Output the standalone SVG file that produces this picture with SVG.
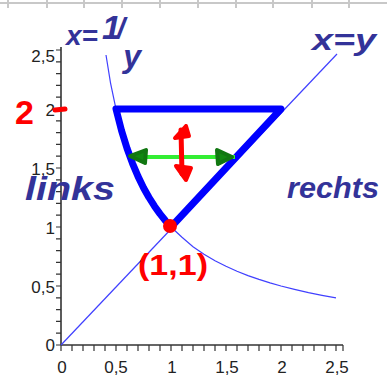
<svg xmlns="http://www.w3.org/2000/svg" width="387" height="378" viewBox="0 0 387 378">
<style>
.grid{stroke:#c8c8c8;stroke-width:2;fill:none}
.axis{stroke:#333;stroke-width:1.6;fill:none}
.tick{stroke:#333;stroke-width:1.2}
.lbl{font-family:"Liberation Sans",Arial,sans-serif;font-size:17px;fill:#222}
.thin{stroke:#4040ff;stroke-width:1.2;fill:none}
.hand{font-family:"Liberation Sans",Arial,sans-serif;font-weight:bold;font-style:italic;fill:#333399}
.red{font-family:"Liberation Sans",Arial,sans-serif;font-weight:bold;fill:#ff0000}
</style>
<rect width="387" height="378" fill="#fff"/>
<g id="topgrid" class="grid">
<line x1="0" y1="3" x2="387" y2="3"/>
<path d="M8,0V8M47,0V8M84,0V8M122,0V8M160,0V8M198,0V8M236,0V8M273,0V8M312,0V8M349,0V8"/>
</g>
<g id="axes">
<line class="axis" x1="61" y1="47" x2="61" y2="345"/>
<line class="axis" x1="61" y1="345" x2="343" y2="345"/>
<path class="tick" d="M56,345H61M56,333.2H61M56,321.4H61M56,309.6H61M56,297.8H61M56,286H61M56,274.2H61M56,262.4H61M56,250.6H61M56,238.8H61M56,227H61M56,215.2H61M56,203.4H61M56,191.6H61M56,179.8H61M56,168H61M56,156.2H61M56,144.4H61M56,132.6H61M56,120.8H61M56,109H61M56,97.2H61M56,85.4H61M56,73.6H61M56,61.8H61M56,50H61"/>
<path class="tick" d="M61,345V351M72,345V351M83,345V351M94,345V351M105,345V351M116,345V351M127,345V351M138,345V351M149,345V351M160,345V351M171,345V351M182,345V351M193,345V351M204,345V351M215,345V351M226,345V351M237,345V351M248,345V351M259,345V351M270,345V351M281,345V351M292,345V351M303,345V351M314,345V351M325,345V351M336,345V351M343,345V351"/>
<g class="lbl" text-anchor="end">
<text x="55" y="62">2,5</text>
<text x="55" y="116">2</text>
<text x="55" y="175">1,5</text>
<text x="55" y="234">1</text>
<text x="55" y="293">0,5</text>
<text x="55" y="351">0</text>
</g>
<g class="lbl" text-anchor="middle">
<text x="62" y="373">0</text>
<text x="116" y="373">0,5</text>
<text x="172" y="373">1</text>
<text x="227" y="373">1,5</text>
<text x="282" y="373">2</text>
<text x="337" y="373">2,5</text>
</g>
</g>
<g id="connectors">
<path id="hyperbola" class="thin" d="M106,55 L110.5,82.8 L116,109 L121.5,130.5 L127,148.3 L132.5,163.3 L138,176.4 L143.5,187.7 L149,197.5 L154.5,206.2 L160,213.9 L165.5,220.8 L171,227 L182,237.3 L193,246.7 L204,254.2 L215,260.7 L226,266.3 L237,271.3 L248,275.6 L259,279.4 L270,282.9 L281,286 L294.5,289.3 L308.5,292.6 L322,295.3 L336,297.8"/>
<line id="diagonal" class="thin" x1="61" y1="345" x2="337" y2="54"/>
<path id="region" d="M116,109 L281,109 L171,227 L165.5,220.8 L160,213.9 L154.5,206.2 L149,197.5 L143.5,187.7 L138,176.4 L132.5,163.3 L127,148.3 L121.5,130.5 Z" fill="none" stroke="#0000ff" stroke-width="7" stroke-linejoin="round"/>
<g id="greenarrow">
<line x1="132" y1="157" x2="235" y2="157" stroke="#33ee33" stroke-width="4"/>
<polygon points="130,156 146,150 145,163" fill="#118811" stroke="#117711" stroke-width="4" stroke-linejoin="round"/>
<polygon points="232,157 217,150 218,164" fill="#118811" stroke="#117711" stroke-width="4" stroke-linejoin="round"/>
</g>
<g id="redarrow" fill="#ff0000" stroke="#ff0000" stroke-linejoin="round" stroke-linecap="round">
<line x1="181" y1="130" x2="182" y2="174" stroke-width="5"/>
<polygon points="186,126 175,138 189,136" stroke-width="4"/>
<polygon points="186,180 176,166 191,168" stroke-width="4"/>
</g>
</g>
<g id="point11">
<circle cx="170" cy="226" r="7" fill="#ff0000"/>
<text class="red" x="173" y="275" font-size="30" text-anchor="middle" textLength="70" lengthAdjust="spacingAndGlyphs">(1,1)</text>
</g>
<g id="label2">
<text class="red" x="15" y="124" font-size="34">2</text>
<line x1="55" y1="110" x2="65" y2="109" stroke="#ff0000" stroke-width="5" stroke-linecap="round"/>
</g>
<g id="labels">
<text class="hand" x="66" y="45" font-size="28">x=<tspan font-size="34" dx="4" dy="-6">1</tspan><tspan font-size="30" dx="-4">/</tspan><tspan font-size="32" dx="-2" dy="28">y</tspan></text>
<text class="hand" x="312" y="50" font-size="30" textLength="64" lengthAdjust="spacingAndGlyphs">x=y</text>
<text class="hand" x="25" y="200" font-size="34" textLength="90" lengthAdjust="spacingAndGlyphs">links</text>
<text class="hand" x="287" y="198" font-size="30" textLength="92" lengthAdjust="spacingAndGlyphs">rechts</text>
</g>
</svg>
